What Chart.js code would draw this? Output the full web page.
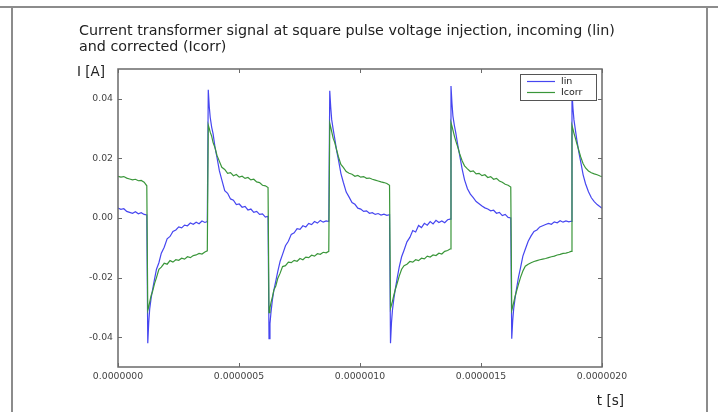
<!DOCTYPE html>
<html>
<head>
<meta charset="utf-8">
<script src="https://cdn.jsdelivr.net/npm/chart.js@4/dist/chart.umd.min.js"></script>
<style>
html,body{margin:0;padding:0;background:#fff;}
canvas{display:block;}
</style>
</head>
<body>
<canvas id="c" width="718" height="412"></canvas>
<script>
// ---- data (time in seconds, current in amperes) ----
const titleLines = [
  'Current transformer signal at square pulse voltage injection, incoming (lin)',
  'and corrected (Icorr)'
];
const yAxisLabel = 'I [A]';
const xAxisLabel = 't [s]';
const seriesNames = ['lin', 'Icorr'];

const xTickValues = [0, 5e-7, 1e-6, 1.5e-6, 2e-6];
const xTickLabels = ['0.0000000', '0.0000005', '0.0000010', '0.0000015', '0.0000020'];
const yTickValues = [-0.04, -0.02, 0.00, 0.02, 0.04];
const yTickLabels = ['-0.04', '-0.02', '0.00', '0.02', '0.04'];
const xRange = [0, 2e-6];
const yRange = [-0.05, 0.05];

const timeS = [
  0e-9, 12e-9, 24e-9, 36e-9, 48e-9, 60e-9, 72e-9, 84e-9, 96e-9, 108e-9, 119e-9,
  123e-9,127e-9,131e-9,137e-9,143e-9,151e-9,159e-9,169e-9,179e-9,191e-9,203e-9,215e-9,227e-9,239e-9,251e-9,263e-9,275e-9,287e-9,299e-9,311e-9,323e-9,335e-9,347e-9,359e-9,369e-9,
  373e-9,377e-9,381e-9,387e-9,393e-9,401e-9,409e-9,419e-9,429e-9,441e-9,453e-9,465e-9,477e-9,489e-9,501e-9,513e-9,525e-9,537e-9,549e-9,561e-9,573e-9,585e-9,597e-9,609e-9,620e-9,
  624e-9,628e-9,632e-9,638e-9,644e-9,652e-9,660e-9,670e-9,680e-9,692e-9,704e-9,716e-9,728e-9,740e-9,752e-9,764e-9,776e-9,788e-9,800e-9,812e-9,824e-9,836e-9,848e-9,860e-9,871e-9,
  875e-9,879e-9,883e-9,889e-9,895e-9,903e-9,911e-9,921e-9,931e-9,943e-9,955e-9,967e-9,979e-9,991e-9,1003e-9,1015e-9,1027e-9,1039e-9,1051e-9,1063e-9,1075e-9,1087e-9,1099e-9,1111e-9,1122e-9,
  1126e-9,1130e-9,1134e-9,1140e-9,1146e-9,1154e-9,1162e-9,1172e-9,1182e-9,1194e-9,1206e-9,1218e-9,1230e-9,1242e-9,1254e-9,1266e-9,1278e-9,1290e-9,1302e-9,1314e-9,1326e-9,1338e-9,1350e-9,1362e-9,1372e-9,
  1376e-9,1380e-9,1384e-9,1390e-9,1396e-9,1404e-9,1412e-9,1422e-9,1432e-9,1444e-9,1456e-9,1468e-9,1480e-9,1492e-9,1504e-9,1516e-9,1528e-9,1540e-9,1552e-9,1564e-9,1576e-9,1588e-9,1600e-9,1612e-9,1623e-9,
  1627e-9,1631e-9,1635e-9,1641e-9,1647e-9,1655e-9,1663e-9,1673e-9,1683e-9,1695e-9,1707e-9,1719e-9,1731e-9,1743e-9,1755e-9,1767e-9,1779e-9,1791e-9,1803e-9,1815e-9,1827e-9,1839e-9,1851e-9,1863e-9,1872e-9,
  1876e-9,1880e-9,1884e-9,1890e-9,1896e-9,1904e-9,1912e-9,1922e-9,1932e-9,1944e-9,1956e-9,1968e-9,1980e-9,1992e-9,2000e-9
];

const iIn = [
  0.0033, 0.0029, 0.0031, 0.0022, 0.0019, 0.0016, 0.0021, 0.0014, 0.0018, 0.0012, 0.0010,
  -0.0420,-0.0350,-0.0305,-0.0268,-0.0240,-0.0205,-0.0172,-0.0150,-0.0118,-0.0098,-0.0070,-0.0062,-0.0045,-0.0040,-0.0030,-0.0033,-0.0024,-0.0026,-0.0017,-0.0021,-0.0014,-0.0019,-0.0010,-0.0015,-0.0012,
  0.0430,0.0375,0.0338,0.0305,0.0282,0.0236,0.0203,0.0158,0.0128,0.0092,0.0083,0.0064,0.0060,0.0045,0.0047,0.0036,0.0039,0.0027,0.0030,0.0019,0.0022,0.0012,0.0014,0.0003,0.0006,
  -0.0405,-0.0355,-0.0318,-0.0275,-0.0243,-0.0212,-0.0180,-0.0145,-0.0122,-0.0093,-0.0078,-0.0055,-0.0050,-0.0036,-0.0038,-0.0026,-0.0030,-0.0018,-0.0022,-0.0012,-0.0017,-0.0008,-0.0014,-0.0010,-0.0012,
  0.0427,0.0372,0.0330,0.0298,0.0270,0.0228,0.0195,0.0150,0.0120,0.0087,0.0070,0.0052,0.0046,0.0033,0.0030,0.0022,0.0024,0.0016,0.0018,0.0012,0.0015,0.0010,0.0013,0.0009,0.0011,
  -0.0420,-0.0352,-0.0310,-0.0270,-0.0238,-0.0200,-0.0165,-0.0130,-0.0108,-0.0080,-0.0065,-0.0042,-0.0047,-0.0025,-0.0032,-0.0018,-0.0024,-0.0012,-0.0020,-0.0008,-0.0015,-0.0010,-0.0016,-0.0006,-0.0004,
  0.0443,0.0385,0.0342,0.0310,0.0285,0.0245,0.0210,0.0165,0.0128,0.0098,0.0080,0.0068,0.0055,0.0048,0.0040,0.0034,0.0030,0.0024,0.0026,0.0016,0.0019,0.0008,0.0012,0.0002,0.0000,
  -0.0405,-0.0345,-0.0305,-0.0268,-0.0236,-0.0198,-0.0168,-0.0128,-0.0105,-0.0078,-0.0060,-0.0045,-0.0040,-0.0030,-0.0026,-0.0022,-0.0018,-0.0021,-0.0013,-0.0016,-0.0009,-0.0014,-0.0010,-0.0013,-0.0011,
  0.0420,0.0368,0.0330,0.0296,0.0262,0.0222,0.0188,0.0145,0.0115,0.0088,0.0068,0.0055,0.0045,0.0038,0.0033
];

const iCorr = [
  0.0140, 0.0137, 0.0139, 0.0134, 0.0131, 0.0128, 0.0130, 0.0125, 0.0126, 0.0120, 0.0108,
  -0.0310,-0.0298,-0.0282,-0.0260,-0.0246,-0.0220,-0.0200,-0.0172,-0.0165,-0.0152,-0.0155,-0.0143,-0.0148,-0.0140,-0.0142,-0.0135,-0.0138,-0.0130,-0.0133,-0.0126,-0.0124,-0.0119,-0.0121,-0.0114,-0.0110,
  0.0312,0.0301,0.0288,0.0275,0.0253,0.0236,0.0210,0.0190,0.0170,0.0163,0.0150,0.0152,0.0142,0.0146,0.0137,0.0140,0.0133,0.0136,0.0128,0.0130,0.0121,0.0119,0.0110,0.0108,0.0102,
  -0.0318,-0.0302,-0.0285,-0.0265,-0.0242,-0.0228,-0.0203,-0.0185,-0.0163,-0.0160,-0.0148,-0.0150,-0.0142,-0.0145,-0.0136,-0.0140,-0.0131,-0.0133,-0.0125,-0.0128,-0.0120,-0.0122,-0.0115,-0.0117,-0.0112,
  0.0318,0.0305,0.0290,0.0268,0.0255,0.0230,0.0205,0.0180,0.0170,0.0156,0.0150,0.0147,0.0140,0.0143,0.0137,0.0139,0.0133,0.0134,0.0130,0.0127,0.0124,0.0121,0.0119,0.0116,0.0110,
  -0.0303,-0.0292,-0.0280,-0.0258,-0.0240,-0.0218,-0.0195,-0.0172,-0.0160,-0.0155,-0.0146,-0.0148,-0.0140,-0.0143,-0.0135,-0.0137,-0.0128,-0.0131,-0.0124,-0.0126,-0.0118,-0.0121,-0.0112,-0.0109,-0.0104,
  0.0320,0.0308,0.0295,0.0275,0.0258,0.0238,0.0215,0.0192,0.0175,0.0165,0.0156,0.0158,0.0148,0.0150,0.0142,0.0145,0.0136,0.0139,0.0130,0.0133,0.0124,0.0120,0.0113,0.0110,0.0104,
  -0.0310,-0.0298,-0.0284,-0.0262,-0.0245,-0.0222,-0.0200,-0.0178,-0.0162,-0.0155,-0.0150,-0.0146,-0.0143,-0.0140,-0.0138,-0.0136,-0.0133,-0.0130,-0.0128,-0.0124,-0.0122,-0.0119,-0.0118,-0.0115,-0.0112,
  0.0310,0.0298,0.0285,0.0268,0.0250,0.0228,0.0205,0.0182,0.0168,0.0158,0.0152,0.0148,0.0145,0.0141,0.0139
];

// ---- styling ----
const FONT = '"DejaVu Sans", "Liberation Sans", sans-serif';
const BLUE = '#4646f0';
const GREEN = '#3a963a';
const FRAME = '#6a6a6a';
const TEXT = '#222222';
const TICKTEXT = '#444444';

const toPoints = ys => timeS.map((t, i) => ({ x: t, y: ys[i] }));

const overlay = {
  id: 'overlay',
  beforeDraw(chart) {
    const ctx = chart.ctx;
    ctx.save();
    ctx.fillStyle = '#ffffff';
    ctx.fillRect(0, 0, chart.width, chart.height);
    // outer page frame
    ctx.strokeStyle = '#8c8c8c';
    ctx.lineWidth = 2;
    ctx.beginPath();
    ctx.moveTo(0, 7); ctx.lineTo(chart.width, 7);
    ctx.moveTo(12, 7); ctx.lineTo(12, chart.height);
    ctx.moveTo(chart.width - 11, 7); ctx.lineTo(chart.width - 11, chart.height);
    ctx.stroke();
    ctx.restore();
  },
  afterDatasetsDraw(chart) {
    const ctx = chart.ctx;
    const ca = chart.chartArea;
    const xs = chart.scales.x, ys = chart.scales.y;
    ctx.save();
    // axes frame
    ctx.strokeStyle = FRAME;
    ctx.lineWidth = 1.5;
    ctx.strokeRect(ca.left, ca.top, ca.right - ca.left, ca.bottom - ca.top);
    // inward tick marks on all four sides
    ctx.lineWidth = 1;
    ctx.beginPath();
    xTickValues.forEach(v => {
      const p = Math.round(xs.getPixelForValue(v)) + 0.5;
      ctx.moveTo(p, ca.bottom); ctx.lineTo(p, ca.bottom - 4);
      ctx.moveTo(p, ca.top); ctx.lineTo(p, ca.top + 4);
    });
    yTickValues.forEach(v => {
      const p = Math.round(ys.getPixelForValue(v)) + 0.5;
      ctx.moveTo(ca.left, p); ctx.lineTo(ca.left + 4, p);
      ctx.moveTo(ca.right, p); ctx.lineTo(ca.right - 4, p);
    });
    ctx.stroke();

    // legend box (upper right, inside axes)
    const lw = 76, lh = 26;
    const lx = ca.right - 6 - lw, ly = ca.top + 5;
    ctx.fillStyle = '#ffffff';
    ctx.fillRect(lx, ly, lw, lh);
    ctx.strokeStyle = '#555555';
    ctx.lineWidth = 1;
    ctx.strokeRect(lx + 0.5, ly + 0.5, lw, lh);
    ctx.font = '9.5px ' + FONT;
    ctx.textBaseline = 'middle';
    ctx.textAlign = 'left';
    chart.data.datasets.forEach((ds, i) => {
      const yy = ly + 7.5 + i * 11;
      ctx.strokeStyle = ds.borderColor;
      ctx.lineWidth = 1.2;
      ctx.beginPath();
      ctx.moveTo(lx + 7, yy); ctx.lineTo(lx + 35, yy);
      ctx.stroke();
      ctx.fillStyle = TEXT;
      ctx.fillText(ds.label, lx + 41, yy);
    });

    // title (two lines, left aligned)
    ctx.fillStyle = TEXT;
    ctx.font = '14.3px ' + FONT;
    ctx.textBaseline = 'alphabetic';
    ctx.textAlign = 'left';
    titleLines.forEach((s, i) => ctx.fillText(s, 79, 35 + i * 16));

    // axis labels
    ctx.font = '13.5px ' + FONT;
    ctx.textAlign = 'right';
    ctx.fillText(yAxisLabel, ca.left - 13, ca.top + 7);
    ctx.fillText(xAxisLabel, ca.right + 22, ca.bottom + 38);
    ctx.restore();
  }
};

new Chart(document.getElementById('c'), {
  type: 'line',
  data: {
    datasets: [
      { label: seriesNames[0], data: toPoints(iIn), borderColor: BLUE, borderWidth: 1.2,
        pointRadius: 0, tension: 0, fill: false, order: 1 },
      { label: seriesNames[1], data: toPoints(iCorr), borderColor: GREEN, borderWidth: 1.2,
        pointRadius: 0, tension: 0, fill: false, order: 0 }
    ]
  },
  options: {
    responsive: false,
    animation: false,
    devicePixelRatio: 1,
    layout: { padding: { left: 78, right: 116, top: 69, bottom: 5 } },
    plugins: { legend: { display: false }, tooltip: { enabled: false }, title: { display: false } },
    scales: {
      x: {
        type: 'linear', min: xRange[0], max: xRange[1],
        afterFit: s => { s.height = 40; },
        afterBuildTicks: s => { s.ticks = xTickValues.map(v => ({ value: v })); },
        ticks: { callback: (v, i) => xTickLabels[i], autoSkip: false, maxRotation: 0,
                 font: { family: FONT, size: 9.3 }, color: TICKTEXT, padding: 4 },
        grid: { display: false, drawTicks: false },
        border: { display: false }
      },
      y: {
        type: 'linear', min: yRange[0], max: yRange[1],
        afterFit: s => { s.width = 40; },
        afterBuildTicks: s => { s.ticks = yTickValues.map(v => ({ value: v })); },
        ticks: { callback: (v, i) => yTickLabels[i], autoSkip: false,
                 font: { family: FONT, size: 9.3 }, color: TICKTEXT, padding: 5 },
        grid: { display: false, drawTicks: false },
        border: { display: false }
      }
    }
  },
  plugins: [overlay]
});
</script>
</body>
</html>
